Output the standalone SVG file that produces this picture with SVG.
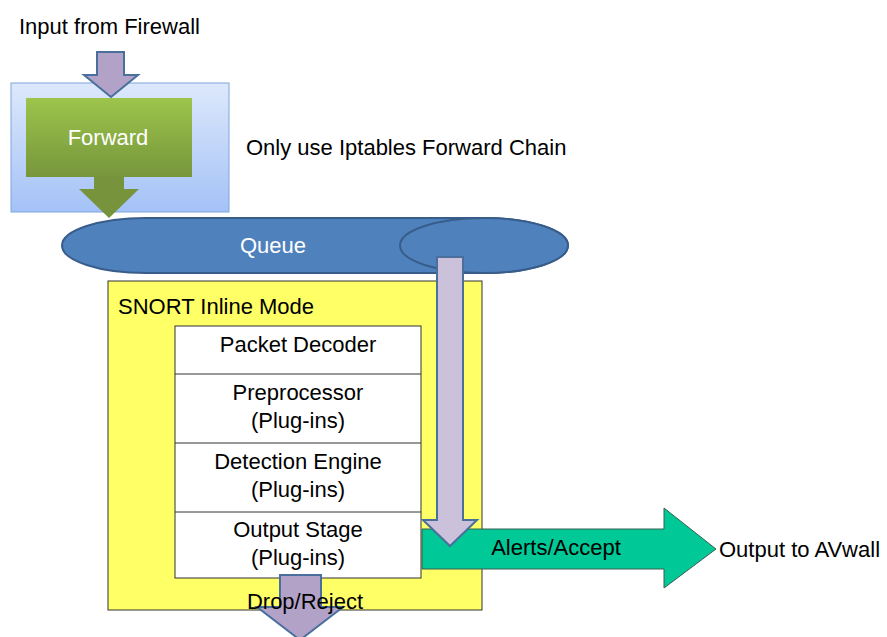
<svg xmlns="http://www.w3.org/2000/svg" width="887" height="637" viewBox="0 0 887 637">
<defs>
<linearGradient id="gBlue" x1="0" y1="0" x2="0" y2="1">
<stop offset="0" stop-color="#dde8fb"/>
<stop offset="1" stop-color="#a4c2f7"/>
</linearGradient>
<linearGradient id="gGreen" x1="0" y1="0" x2="0" y2="1">
<stop offset="0" stop-color="#9dc44b"/>
<stop offset="1" stop-color="#77963c"/>
</linearGradient>
<style>
text{font-family:"Liberation Sans",Arial,sans-serif;font-size:22px;fill:#000}
.w{fill:#fff}
.c{text-anchor:middle}
.purple{fill:#b3a2c7;stroke:#4a6f9c;stroke-width:2}
.lav{fill:#ccc1da;stroke:#4a6f9c;stroke-width:2}
</style>
</defs>
<rect width="887" height="637" fill="#fff"/>

<g id="input-label"><text x="19" y="34">Input from Firewall</text></g>

<g id="forward-box">
<rect x="11" y="83" width="218" height="129" fill="url(#gBlue)" stroke="#7fa5de" stroke-width="1"/>
<rect x="26" y="98" width="166" height="79" fill="url(#gGreen)"/>
<path d="M94,177 H124 V189 H139 L109,218 L79,189 H94 Z" fill="#77933c"/>
<text class="w c" x="108" y="145">Forward</text>
</g>

<g id="note"><text x="246" y="155">Only use Iptables Forward Chain</text></g>

<g id="queue">
<path d="M146,218 H484 A84,27.5 0 0 1 484,273 H146 A84,27.5 0 0 1 146,218 Z" fill="#4f81bd" stroke="#385d8a" stroke-width="2"/>
<ellipse cx="484" cy="245.5" rx="84" ry="27.5" fill="#4f81bd" stroke="#385d8a" stroke-width="2"/>
<text class="w c" x="273" y="253">Queue</text>
</g>

<g id="snort">
<rect x="108" y="281" width="374" height="329" fill="#ffff66" stroke="#333" stroke-width="1"/>
<text x="118" y="314">SNORT Inline Mode</text>
</g>

<g id="stack">
<rect x="175" y="326" width="246" height="252" fill="#fff" stroke="#333" stroke-width="1"/>
<line x1="175" y1="374" x2="421" y2="374" stroke="#333" stroke-width="1"/>
<line x1="175" y1="443" x2="421" y2="443" stroke="#333" stroke-width="1"/>
<line x1="175" y1="512" x2="421" y2="512" stroke="#333" stroke-width="1"/>
<text class="c" x="298" y="352">Packet Decoder</text>
<text class="c" x="298" y="400">Preprocessor</text>
<text class="c" x="298" y="428">(Plug-ins)</text>
<text class="c" x="298" y="469">Detection Engine</text>
<text class="c" x="298" y="497">(Plug-ins)</text>
<text class="c" x="298" y="537">Output Stage</text>
<text class="c" x="298" y="565">(Plug-ins)</text>
</g>

<g id="connectors">
<path class="purple" d="M97,52 H124 V75 H138 L111,97 L84,75 H97 Z"/>
<path d="M422,529 H664 V508 L716,549 L664,588 V569 H422 Z" fill="#00c896" stroke="#3b5e52" stroke-width="1"/>
<path class="lav" d="M437,257 H463 V520 H477 L450,546 L423,520 H437 Z"/>
<path class="purple" d="M280,575 H321 V607 H343 L300,640 L257,607 H280 Z"/>
</g>

<g id="labels">
<text class="c" x="305" y="609">Drop/Reject</text>
<text class="c" x="556" y="555">Alerts/Accept</text>
<text x="719" y="557">Output to AVwall</text>
</g>
</svg>
